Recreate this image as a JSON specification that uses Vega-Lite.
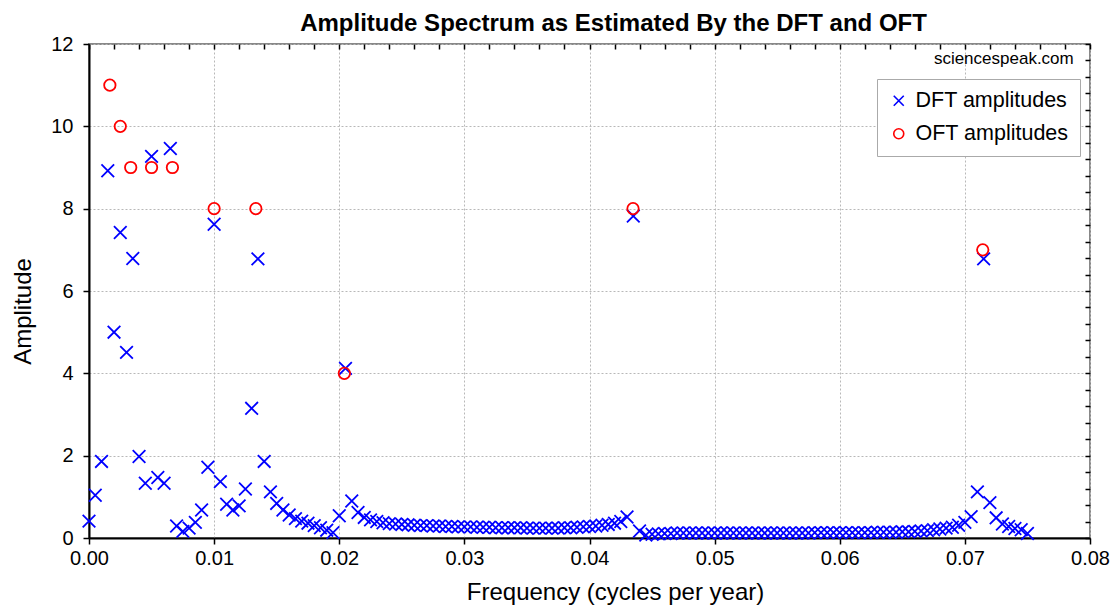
{
  "$schema": "https://vega.github.io/schema/vega-lite/v6.json",
  "width": 1001,
  "height": 494,
  "autosize": "none",
  "padding": {"left": 89, "top": 44, "right": 30, "bottom": 69},
  "background": "white",
  "title": {"text": "Amplitude Spectrum as Estimated By the DFT and OFT", "font": "Liberation Sans", "fontSize": 24, "fontWeight": "bold", "color": "black", "anchor": "middle", "dx": 24, "offset": -2},
  "config": {
    "view": {"stroke": "#888888", "strokeWidth": 2},
    "axis": {"labelFont": "Liberation Sans", "titleFont": "Liberation Sans", "labelColor": "black", "titleColor": "black", "titleFontWeight": "normal"}
  },
  "datasets": {
    "dft": [
      {"f":0,"a":0.41},{"f":0.0005,"a":1.04},{"f":0.001,"a":1.86},{"f":0.0015,"a":8.92},{"f":0.002,"a":5.0},
      {"f":0.0025,"a":7.42},{"f":0.003,"a":4.51},{"f":0.0035,"a":6.79},{"f":0.004,"a":1.98},{"f":0.0045,"a":1.33},
      {"f":0.005,"a":9.27},{"f":0.0055,"a":1.47},{"f":0.006,"a":1.33},{"f":0.0065,"a":9.46},{"f":0.007,"a":0.29},
      {"f":0.0075,"a":0.16},{"f":0.008,"a":0.24},{"f":0.0085,"a":0.38},{"f":0.009,"a":0.68},{"f":0.0095,"a":1.72},
      {"f":0.01,"a":7.62},{"f":0.0105,"a":1.37},{"f":0.011,"a":0.82},{"f":0.0115,"a":0.68},{"f":0.012,"a":0.78},
      {"f":0.0125,"a":1.19},{"f":0.013,"a":3.15},{"f":0.0135,"a":6.78},{"f":0.014,"a":1.86},{"f":0.0145,"a":1.12},
      {"f":0.015,"a":0.84},{"f":0.0155,"a":0.68},{"f":0.016,"a":0.56},{"f":0.0165,"a":0.47},{"f":0.017,"a":0.41},
      {"f":0.0175,"a":0.36},{"f":0.018,"a":0.3},{"f":0.0185,"a":0.25},{"f":0.019,"a":0.19},{"f":0.0195,"a":0.13},
      {"f":0.02,"a":0.54},{"f":0.0205,"a":4.12},{"f":0.021,"a":0.9},{"f":0.0215,"a":0.62},{"f":0.022,"a":0.5},
      {"f":0.0225,"a":0.44},{"f":0.023,"a":0.4},{"f":0.0235,"a":0.37},{"f":0.024,"a":0.35},{"f":0.0245,"a":0.34},
      {"f":0.025,"a":0.33},{"f":0.0255,"a":0.32},{"f":0.026,"a":0.31},{"f":0.0265,"a":0.3},{"f":0.027,"a":0.3},
      {"f":0.0275,"a":0.29},{"f":0.028,"a":0.29},{"f":0.0285,"a":0.28},{"f":0.029,"a":0.28},{"f":0.0295,"a":0.27},
      {"f":0.03,"a":0.27},{"f":0.0305,"a":0.27},{"f":0.031,"a":0.26},{"f":0.0315,"a":0.26},{"f":0.032,"a":0.26},
      {"f":0.0325,"a":0.25},{"f":0.033,"a":0.25},{"f":0.0335,"a":0.25},{"f":0.034,"a":0.25},{"f":0.0345,"a":0.25},
      {"f":0.035,"a":0.24},{"f":0.0355,"a":0.24},{"f":0.036,"a":0.24},{"f":0.0365,"a":0.24},{"f":0.037,"a":0.24},
      {"f":0.0375,"a":0.24},{"f":0.038,"a":0.25},{"f":0.0385,"a":0.25},{"f":0.039,"a":0.26},{"f":0.0395,"a":0.27},
      {"f":0.04,"a":0.28},{"f":0.0405,"a":0.29},{"f":0.041,"a":0.31},{"f":0.0415,"a":0.33},{"f":0.042,"a":0.36},
      {"f":0.0425,"a":0.4},{"f":0.043,"a":0.51},{"f":0.0435,"a":7.82},{"f":0.044,"a":0.17},{"f":0.0445,"a":0.07},
      {"f":0.045,"a":0.09},{"f":0.0455,"a":0.1},{"f":0.046,"a":0.11},{"f":0.0465,"a":0.11},{"f":0.047,"a":0.12},
      {"f":0.0475,"a":0.12},{"f":0.048,"a":0.12},{"f":0.0485,"a":0.12},{"f":0.049,"a":0.12},{"f":0.0495,"a":0.12},
      {"f":0.05,"a":0.12},{"f":0.0505,"a":0.12},{"f":0.051,"a":0.12},{"f":0.0515,"a":0.12},{"f":0.052,"a":0.12},
      {"f":0.0525,"a":0.12},{"f":0.053,"a":0.12},{"f":0.0535,"a":0.12},{"f":0.054,"a":0.12},{"f":0.0545,"a":0.12},
      {"f":0.055,"a":0.12},{"f":0.0555,"a":0.12},{"f":0.056,"a":0.12},{"f":0.0565,"a":0.12},{"f":0.057,"a":0.12},
      {"f":0.0575,"a":0.12},{"f":0.058,"a":0.13},{"f":0.0585,"a":0.13},{"f":0.059,"a":0.13},{"f":0.0595,"a":0.13},
      {"f":0.06,"a":0.13},{"f":0.0605,"a":0.13},{"f":0.061,"a":0.13},{"f":0.0615,"a":0.13},{"f":0.062,"a":0.13},
      {"f":0.0625,"a":0.13},{"f":0.063,"a":0.14},{"f":0.0635,"a":0.14},{"f":0.064,"a":0.14},{"f":0.0645,"a":0.14},
      {"f":0.065,"a":0.15},{"f":0.0655,"a":0.15},{"f":0.066,"a":0.16},{"f":0.0665,"a":0.17},{"f":0.067,"a":0.18},
      {"f":0.0675,"a":0.2},{"f":0.068,"a":0.22},{"f":0.0685,"a":0.24},{"f":0.069,"a":0.26},{"f":0.0695,"a":0.31},
      {"f":0.07,"a":0.38},{"f":0.0705,"a":0.52},{"f":0.071,"a":1.12},{"f":0.0715,"a":6.78},{"f":0.072,"a":0.86},
      {"f":0.0725,"a":0.49},{"f":0.073,"a":0.34},{"f":0.0735,"a":0.28},{"f":0.074,"a":0.23},{"f":0.0745,"a":0.2},
      {"f":0.075,"a":0.11}
    ],
    "oft": [
      {"f":0.001667,"a":11},{"f":0.0025,"a":10},{"f":0.003333,"a":9},{"f":0.005,"a":9},{"f":0.006667,"a":9},
      {"f":0.01,"a":8},{"f":0.013333,"a":8},{"f":0.020408,"a":4},{"f":0.043478,"a":8},{"f":0.071429,"a":7}
    ],
    "note": [{"label": "sciencespeak.com"}]
  },
  "resolve": {"axis": {"x": "independent", "y": "independent"}},
  "layer": [
    {
      "data": {"name": "dft"},
      "mark": {"type": "point", "filled": false, "size": 160, "strokeWidth": 1.8, "opacity": 1},
      "encoding": {
        "x": {"field": "f", "type": "quantitative",
          "scale": {"domain": [0, 0.08], "nice": false, "zero": false},
          "axis": {"values": [0,0.01,0.02,0.03,0.04,0.05,0.06,0.07,0.08], "format": ".2f", "title": "Frequency (cycles per year)",
            "titleFontSize": 24, "labelFontSize": 20, "labelPadding": 4, "titlePadding": 12, "titleX": 526,
            "grid": true, "gridColor": "#b8b8b8", "gridDash": [2, 2], "gridWidth": 1,
            "domainColor": "black", "domainWidth": 2, "tickColor": "black", "tickSize": 6, "tickWidth": 1.5, "labelFlush": false}},
        "y": {"field": "a", "type": "quantitative",
          "scale": {"domain": [0, 12], "nice": false},
          "axis": {"values": [0,2,4,6,8,10,12], "title": "Amplitude", "titleFontSize": 24, "labelFontSize": 20,
            "labelPadding": 10, "titlePadding": 15, "titleY": 267,
            "grid": true, "gridColor": "#b8b8b8", "gridDash": [2, 2], "gridWidth": 1,
            "domainColor": "black", "domainWidth": 2, "tickColor": "black", "tickSize": 6, "tickWidth": 1.5}},
        "color": {"datum": "DFT amplitudes", "type": "nominal",
          "scale": {"domain": ["DFT amplitudes", "OFT amplitudes"], "range": ["#0000ff", "#ff0000"]},
          "legend": {"title": null, "orient": "none", "legendX": 788, "legendY": 35, "labelFontSize": 21.5, "labelFont": "Liberation Sans",
            "labelColor": "black", "strokeColor": "#aaaaaa", "fillColor": "white", "padding": 11, "rowPadding": 10,
            "symbolSize": 100, "symbolStrokeWidth": 1.6, "labelOffset": 6}},
        "shape": {"datum": "DFT amplitudes", "type": "nominal",
          "scale": {"domain": ["DFT amplitudes", "OFT amplitudes"], "range": ["M-1,-1L1,1M-1,1L1,-1", "circle"]},
          "legend": {"title": null, "orient": "none", "legendX": 788, "legendY": 35, "labelFontSize": 21.5, "labelFont": "Liberation Sans",
            "labelColor": "black", "strokeColor": "#aaaaaa", "fillColor": "white", "padding": 11, "rowPadding": 10,
            "symbolSize": 100, "symbolStrokeWidth": 1.6, "labelOffset": 6}}
      }
    },
    {
      "data": {"name": "oft"},
      "mark": {"type": "point", "filled": false, "size": 130, "strokeWidth": 1.8, "opacity": 1},
      "encoding": {
        "x": {"field": "f", "type": "quantitative",
          "axis": {"values": [0,0.002,0.004,0.006,0.008,0.01,0.012,0.014,0.016,0.018,0.02,0.022,0.024,0.026,0.028,0.03,0.032,0.034,0.036,0.038,0.04,0.042,0.044,0.046,0.048,0.05,0.052,0.054,0.056,0.058,0.06,0.062,0.064,0.066,0.068,0.07,0.072,0.074,0.076,0.078,0.08],
            "labels": false, "domain": false, "grid": false, "title": null, "tickColor": "black", "tickSize": -5, "tickWidth": 1.5}},
        "y": {"field": "a", "type": "quantitative",
          "axis": {"values": [0,0.4,0.8,1.2,1.6,2,2.4,2.8,3.2,3.6,4,4.4,4.8,5.2,5.6,6,6.4,6.8,7.2,7.6,8,8.4,8.8,9.2,9.6,10,10.4,10.8,11.2,11.6,12],
            "labels": false, "domain": false, "grid": false, "title": null, "tickColor": "black", "tickSize": -5, "tickWidth": 1.5}},
        "color": {"datum": "OFT amplitudes", "type": "nominal"},
        "shape": {"datum": "OFT amplitudes", "type": "nominal"}
      }
    },
    {
      "data": {"name": "note"},
      "mark": {"type": "text", "align": "right", "baseline": "middle", "fontSize": 17, "font": "Liberation Sans", "color": "black"},
      "encoding": {
        "x": {"datum": 0.0787, "type": "quantitative", "axis": null},
        "y": {"datum": 11.63, "type": "quantitative", "axis": null},
        "text": {"field": "label", "type": "nominal"}
      }
    }
  ]
}
